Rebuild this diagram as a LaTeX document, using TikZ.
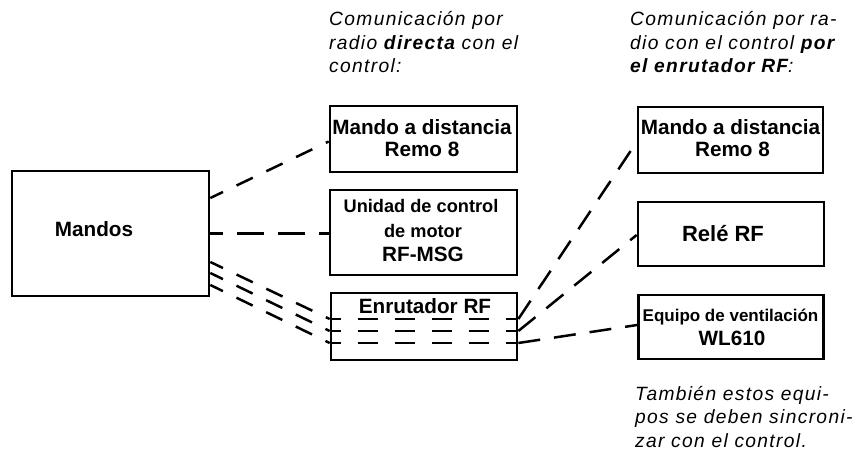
\documentclass[tikz,border=0pt]{standalone}
\usepackage{fontspec}
\setmainfont{Liberation Sans}
\newfontfamily\notefont[LetterSpace=7]{Liberation Sans}
\usetikzlibrary{calc}
\tikzset{
  box/.style={draw, line width=2.7pt, inner sep=0pt},
  lbl/.style={inner sep=0pt, anchor=base, font=\fontsize{20.7}{22}\selectfont\bfseries},
  lblsmall/.style={inner sep=0pt, anchor=base, font=\fontsize{18.2}{20}\selectfont\bfseries},
  note/.style={inner sep=0pt, anchor=base west, font=\notefont\fontsize{19.2}{24}\selectfont\itshape},
  conn/.style={line width=2.5pt, dash pattern=on 22pt off 14pt},
  slant/.style={line width=2.5pt, dash pattern=on 18pt off 15pt, dash phase=4pt},
  level/.style={line width=2.5pt, dash pattern=on 27pt off 14pt, dash phase=14pt},
  inner/.style={line width=2.5pt, dash pattern=on 20pt off 17pt, dash phase=9pt}
}
\begin{document}
\begin{tikzpicture}[x=1pt,y=-1pt]
\useasboundingbox (0,0) rectangle (854,454);

% boxes
\node[box, minimum width=197pt, minimum height=125pt] (mandos) at (110.5,233.5) {};
\node[box, minimum width=187pt, minimum height=66pt] (b1) at (423.5,139) {};
\node[box, minimum width=187pt, minimum height=85pt] (b2) at (423.5,232.5) {};
\node[box, minimum width=186pt, minimum height=67pt] (b3) at (424,326.5) {};
\node[box, minimum width=185pt, minimum height=66pt] (r1) at (730.5,140) {};
\node[box, minimum width=186pt, minimum height=64pt] (r2) at (731,234) {};
\node[box, minimum width=185pt, minimum height=64pt] (r3) at (731,327) {};

% box labels
\node[lbl] (tmandos) at (94,237) {Mandos};
\node[lbl] (tb1a) at (422,135) {Mando a distancia};
\node[lbl] (tb1b) at (422,157) {Remo 8};
\node[lblsmall] (tb2a) at (421,213) {Unidad de control};
\node[lblsmall] (tb2b) at (423,238) {de motor};
\node[lbl] (tb2c) at (423,262) {RF-MSG};
\node[lbl] (tb3) at (425,313) {Enrutador RF};
\node[lbl] (tr1a) at (730.5,135) {Mando a distancia};
\node[lbl] (tr1b) at (732.5,157) {Remo 8};
\node[lbl, font=\fontsize{22}{24}\selectfont\bfseries] (tr2) at (723,242) {Relé RF};
\node[lblsmall, font=\fontsize{17}{20}\selectfont\bfseries] (tr3a) at (730.5,321) {Equipo de ventilación};
\node[lbl] (tr3b) at (732,345) {WL610};

% notes
\node[note] (n1a) at (329,26) {Comunicación por};
\node[note] (n1b) at (329,49.5) {radio \textbf{directa} con el};
\node[note] (n1c) at (329,73) {control:};
\node[note] (n2a) at (630,26) {Comunicación por ra-};
\node[note] (n2b) at (630,49.5) {dio con el control \textbf{por}};
\node[note] (n2c) at (630,73) {\textbf{el enrutador RF}:};
\node[note] (n3a) at (635,400) {También estos equi-};
\node[note] (n3b) at (635,423.5) {pos se deben sincroni-};
\node[note] (n3c) at (635,447) {zar con el control.};

% connectors: direct
\draw[slant] ([yshift=35.5pt]mandos.east) -- ([yshift=-2.5pt]b1.west);
\draw[level] (mandos.east) -- (mandos.east -| b2.west);
% connectors: via RF router
\draw[slant] ([yshift=-28.5pt]mandos.east) -- ([yshift=7.5pt]b3.west);
\draw[slant] ([yshift=-39.5pt]mandos.east) -- ([yshift=-4.5pt]b3.west);
\draw[slant] ([yshift=-51.5pt]mandos.east) -- ([yshift=-16.5pt]b3.west);
\draw[inner] ([yshift=7.5pt]b3.west) -- ([yshift=7.5pt]b3.east);
\draw[inner] ([yshift=-4.5pt]b3.west) -- ([yshift=-4.5pt]b3.east);
\draw[inner] ([yshift=-16.5pt]b3.west) -- ([yshift=-16.5pt]b3.east);
\draw[conn] ([yshift=7.5pt]b3.east) -- ([yshift=-2pt]r1.west);
\draw[conn] ([yshift=-4.5pt]b3.east) -- ([yshift=-1pt]r2.west);
\draw[conn] ([yshift=-16.5pt]b3.east) -- ([yshift=2pt]r3.west);
\end{tikzpicture}
\end{document}
